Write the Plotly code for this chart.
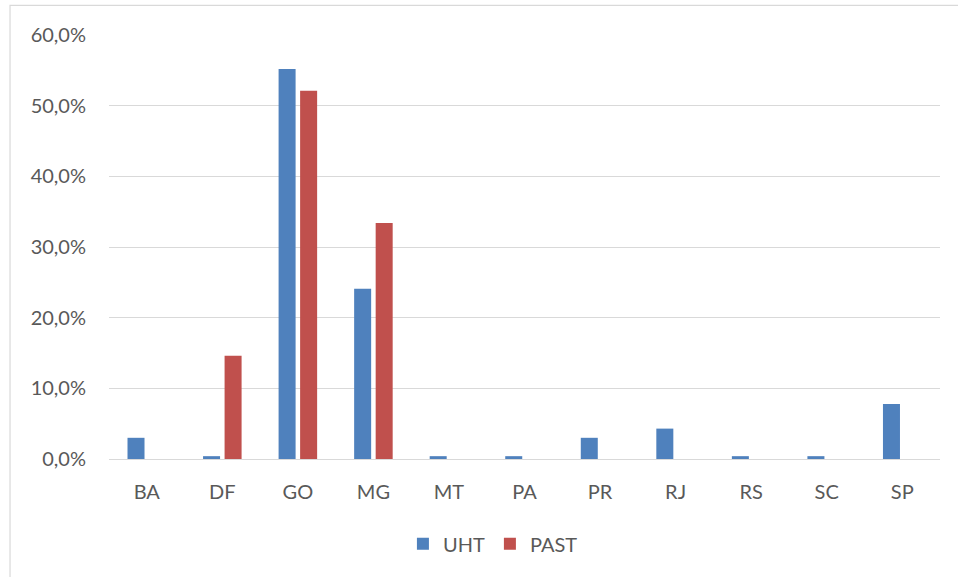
import plotly.graph_objects as go

categories = ["BA", "DF", "GO", "MG", "MT", "PA", "PR", "RJ", "RS", "SC", "SP"]
uht = [3.0, 0.4, 55.2, 24.1, 0.4, 0.4, 3.0, 4.3, 0.4, 0.4, 7.8]
past = [0.0, 14.6, 52.1, 33.4, 0.0, 0.0, 0.0, 0.0, 0.0, 0.0, 0.0]
y_ticks = [0, 10, 20, 30, 40, 50, 60]
y_ticktext = [f"{v:.1f}".replace(".", ",") + "%" for v in y_ticks]

FONT = "Lato, Open Sans, sans-serif"
TXT = "#595959"

fig = go.Figure()
fig.add_trace(go.Bar(name="UHT", x=categories, y=uht, marker=dict(color="#4F81BD", line=dict(width=0))))
fig.add_trace(go.Bar(name="PAST", x=categories, y=past, marker=dict(color="#C0504D", line=dict(width=0))))

fig.update_layout(
    width=958, height=577,
    margin=dict(l=109, r=18, t=35, b=118),
    paper_bgcolor="white", plot_bgcolor="white",
    barmode="group", bargap=0.43, bargroupgap=0.21,
    font=dict(family=FONT, size=20, color=TXT),
    showlegend=True,
    legend=dict(orientation="h", x=0.462, xanchor="center", y=-0.2, yanchor="middle",
                font=dict(family=FONT, size=20, color=TXT), itemwidth=30, tracegroupgap=0),
    xaxis=dict(showgrid=False, showline=True, linecolor="#D9D9D9", linewidth=1,
               ticks="", ticklabelstandoff=15, tickfont=dict(family=FONT, size=20, color=TXT)),
    yaxis=dict(range=[0, 60], tickvals=y_ticks, ticktext=y_ticktext,
               showgrid=True, gridcolor="#D9D9D9", gridwidth=1, zeroline=False,
               showline=False, ticks="", ticklabelstandoff=22,
               tickfont=dict(family=FONT, size=20, color=TXT)),
    shapes=[dict(type="rect", xref="paper", yref="paper", x0=-0.1191, x1=1.03, y0=-0.45, y1=1.070,
                 line=dict(color="#D9D9D9", width=1.2), fillcolor="rgba(0,0,0,0)", layer="below")],
)

fig.write_html("out.html", config={"displayModeBar": False},
               post_script="document.body.style.margin='0';document.body.style.padding='0';")
